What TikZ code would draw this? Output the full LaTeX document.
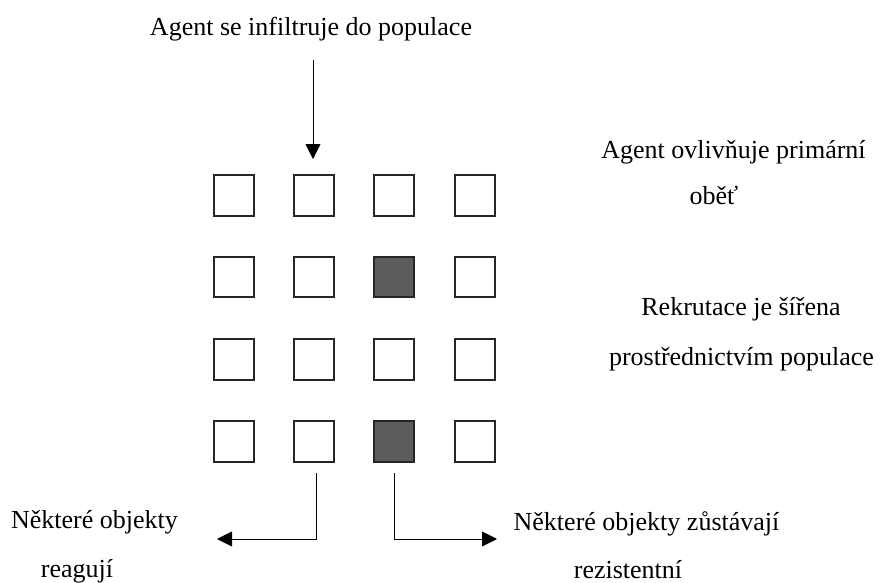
\documentclass[tikz,border=0pt]{standalone}
\usepackage{fontspec}
\setmainfont{Liberation Serif}
\usetikzlibrary{arrows.meta}
\begin{document}
\begin{tikzpicture}[x=1pt,y=-1pt,
  cell/.style={draw=black!85,line width=1.6pt,fill=white,minimum size=40.5pt,inner sep=0pt},
  hot/.style={cell,fill=black!64},
  lbl/.style={anchor=base,inner sep=0pt,font=\fontsize{26}{30}\selectfont},
  conn/.style={line width=0.9pt,-{Triangle[length=15pt,width=15pt]}}]
\useasboundingbox (0,0) rectangle (880,583);
% grid of squares
\foreach \r/\yy in {1/195.5,2/277,3/359.5,4/441.5}{
  \foreach \c/\xx in {1/234,2/314,3/394,4/475}{
    \node[cell] (s\r\c) at (\xx,\yy) {};
  }
}
\node[hot] (s23) at (394,277) {};
\node[hot] (s43) at (394,441.5) {};
% labels
\node[lbl] (t1) at (311,36) {Agent se infiltruje do populace};
\node[lbl] (t2) at (733.5,158) {Agent ovlivňuje primární};
\node[lbl] (t3) at (714,204) {oběť};
\node[lbl] (t4) at (741,315) {Rekrutace je šířena};
\node[lbl] (t5) at (741.5,365) {prostřednictvím populace};
\node[lbl] (t6) at (94.5,528) {Některé objekty};
\node[lbl] (t7) at (77,577) {reagují};
\node[lbl] (t8) at (646.5,530) {Některé objekty zůstávají};
\node[lbl] (t9) at (628,578) {rezistentní};
% connectors
\coordinate (topstart) at (313,60);
\coordinate (toptip) at (313,159);
\coordinate (lstart) at (316,473);
\coordinate (ltip) at (217,539);
\coordinate (rstart) at (394,473);
\coordinate (rtip) at (497,539);
\draw[conn] (topstart) -- (toptip);
\draw[conn] (lstart) |- (ltip);
\draw[conn] (rstart) |- (rtip);
\end{tikzpicture}
\end{document}
